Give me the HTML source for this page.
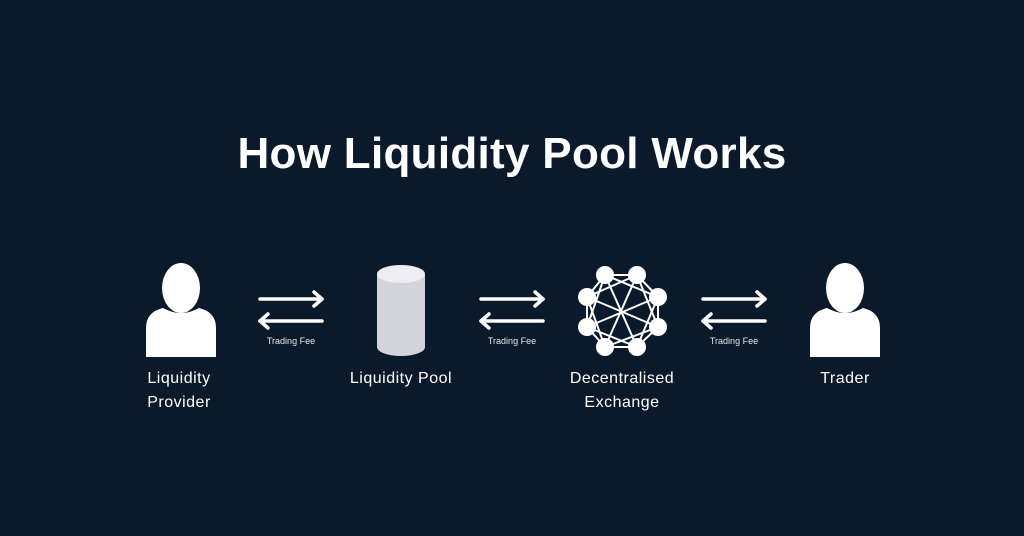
<!DOCTYPE html>
<html><head><style>
html,body{margin:0;padding:0;}
body{width:1024px;height:536px;background:#0b1a2b;overflow:hidden;position:relative;font-family:"Liberation Sans",sans-serif;color:#fff;}
.t{position:absolute;left:0;width:1024px;text-align:center;top:129px;font-size:44px;font-weight:bold;letter-spacing:0.3px;}
.l{position:absolute;text-align:center;font-size:16px;line-height:24px;width:200px;letter-spacing:0.5px;}
.f{position:absolute;text-align:center;font-size:9px;width:100px;color:#e8e8e8;}
</style></head><body>
<div class="t">How Liquidity Pool Works</div>
<svg width="1024" height="536" style="position:absolute;left:0;top:0">
<defs>
<g id="p"><ellipse cx="0" cy="0" rx="19" ry="25" fill="#fff"/>
<path d="M-35,69 L-35,40 Q-35,24 -18,20 Q0,30 18,20 Q35,24 35,40 L35,69 Z" fill="#fff"/></g>
<g id="a" stroke="#fff" stroke-width="3.5" fill="none" stroke-linecap="round" stroke-linejoin="round">
<line x1="0" y1="0" x2="62" y2="0"/><polyline points="54,-7 62,0 54,7"/>
<line x1="0" y1="22" x2="62" y2="22"/><polyline points="8,15 0,22 8,29"/></g>
</defs>
<use href="#p" x="181" y="288"/>
<use href="#p" x="845" y="288"/>
<use href="#a" x="260" y="299"/>
<use href="#a" x="481" y="299"/>
<use href="#a" x="703" y="299"/>
<path d="M377,275 L377,347 A24,9 0 0 0 425,347 L425,275 Z" fill="#d3d3dc"/>
<ellipse cx="401" cy="274" rx="24" ry="9" fill="#ededf2"/>
<g stroke="#fff" stroke-width="2">
<line x1="605" y1="275" x2="637" y2="275"/><line x1="637" y1="275" x2="658" y2="297"/><line x1="658" y1="297" x2="658" y2="327"/><line x1="658" y1="327" x2="637" y2="347"/><line x1="637" y1="347" x2="605" y2="347"/><line x1="605" y1="347" x2="587" y2="327"/><line x1="587" y1="327" x2="587" y2="297"/><line x1="587" y1="297" x2="605" y2="275"/>
<line x1="605" y1="275" x2="637" y2="347"/><line x1="637" y1="275" x2="605" y2="347"/><line x1="587" y1="297" x2="658" y2="327"/><line x1="587" y1="327" x2="658" y2="297"/>
<line x1="605" y1="275" x2="658" y2="297"/><line x1="605" y1="275" x2="587" y2="327"/><line x1="637" y1="275" x2="587" y2="297"/><line x1="637" y1="275" x2="658" y2="327"/>
<line x1="605" y1="347" x2="587" y2="297"/><line x1="605" y1="347" x2="658" y2="327"/><line x1="637" y1="347" x2="658" y2="297"/><line x1="637" y1="347" x2="587" y2="327"/>
</g>
<g fill="#fff"><circle cx="605" cy="275" r="9"/><circle cx="637" cy="275" r="9"/><circle cx="658" cy="297" r="9"/><circle cx="658" cy="327" r="9"/><circle cx="637" cy="347" r="9"/><circle cx="605" cy="347" r="9"/><circle cx="587" cy="327" r="9"/><circle cx="587" cy="297" r="9"/></g>
</svg>
<div class="f" style="left:241px;top:336px">Trading Fee</div>
<div class="f" style="left:462px;top:336px">Trading Fee</div>
<div class="f" style="left:684px;top:336px">Trading Fee</div>
<div class="l" style="left:79px;top:367px">Liquidity<br>Provider</div>
<div class="l" style="left:301px;top:367px">Liquidity Pool</div>
<div class="l" style="left:522px;top:367px">Decentralised<br>Exchange</div>
<div class="l" style="left:745px;top:367px">Trader</div>
</body></html>
